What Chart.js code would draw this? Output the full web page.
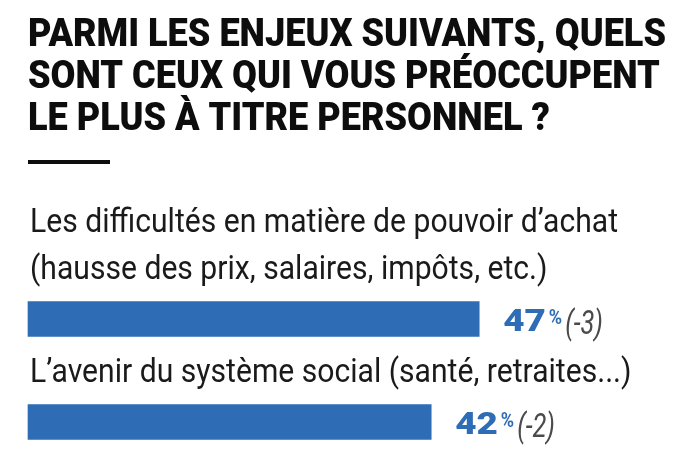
<!DOCTYPE html>
<html>
<head>
<meta charset="utf-8">
<script src="https://cdn.jsdelivr.net/npm/chart.js@4"></script>
<style>
  html, body { margin: 0; padding: 0; background: #fff; }
  #chart { display: block; }
</style>
</head>
<body>
<canvas id="chart" width="700" height="450"></canvas>
<script>
/* ── data ── */
const TITLE_LINES = [
  'PARMI LES ENJEUX SUIVANTS, QUELS',
  'SONT CEUX QUI VOUS PRÉOCCUPENT',
  'LE PLUS À TITRE PERSONNEL ?'
];
const CATEGORIES = [
  ['Les difficultés en matière de pouvoir d’achat', '(hausse des prix, salaires, impôts, etc.)'],
  ['L’avenir du système social (santé, retraites...)']
];
const VALUES  = [47, 42];
const CHANGES = ['(-3)', '(-2)'];

const BLUE = '#2e6db6';
const GREY = '#4a4a4a';

// draw text squeezed horizontally (no condensed face installed)
function condensedText(ctx, text, x, y, sx) {
  ctx.save();
  ctx.translate(x, y);
  ctx.scale(sx, 1);
  ctx.fillText(text, 0, 0);
  ctx.restore();
  return ctx.measureText(text).width * sx;
}

const textPlugin = {
  id: 'texts',
  afterDraw(chart) {
    const ctx = chart.ctx;
    ctx.save();
    ctx.textBaseline = 'alphabetic';
    ctx.textAlign = 'left';

    /* title */
    ctx.fillStyle = '#0d0d0d';
    ctx.font = '900 38px Roboto';
    const tsx = 638 / ctx.measureText(TITLE_LINES[0]).width;
    TITLE_LINES.forEach((t, i) => condensedText(ctx, t, 28, 46 + i * 42, tsx));

    /* short rule under the title */
    ctx.fillRect(28, 160, 82, 4);

    /* category labels + values */
    const meta = chart.getDatasetMeta(0);
    ctx.font = '33px Roboto';
    const lsx = 588 / ctx.measureText(CATEGORIES[0][0]).width;
    meta.data.forEach((bar, i) => {
      const top = bar.y - bar.height / 2;
      const lines = CATEGORIES[i];
      ctx.fillStyle = '#1a1a1a';
      ctx.font = '33px Roboto';
      lines.forEach((l, j) => {
        const y = top - 23 - (lines.length - 1 - j) * 47;
        condensedText(ctx, l, 30, y, lsx);
      });

      const base = bar.y + 12;
      let x = bar.x + 24;
      ctx.fillStyle = BLUE;
      ctx.font = '900 32px Roboto';
      x += condensedText(ctx, String(VALUES[i]), x, base, 1.15) + 3;
      ctx.font = 'bold 20px Roboto';
      x += condensedText(ctx, '%', x, base - 7, 0.9) + 3;
      ctx.fillStyle = GREY;
      ctx.font = 'italic 34px Roboto';
      condensedText(ctx, CHANGES[i], x, base + 3, 0.75);
    });
    ctx.restore();
  }
};

new Chart(document.getElementById('chart'), {
  type: 'bar',
  data: {
    labels: CATEGORIES.map(c => c.join(' ')),
    datasets: [{
      data: VALUES,
      backgroundColor: BLUE,
      barThickness: 35,
      borderWidth: 0,
      clip: false,
    }]
  },
  options: {
    indexAxis: 'y',
    responsive: false,
    animation: false,
    layout: { padding: { top: 319, bottom: 28, left: 28, right: 0 } },
    plugins: { legend: { display: false }, tooltip: { enabled: false } },
    scales: {
      x: { display: false, min: 0, max: 70 },
      y: { display: false, offset: false, grid: { display: false } }
    }
  },
  plugins: [textPlugin]
});
</script>
</body>
</html>
